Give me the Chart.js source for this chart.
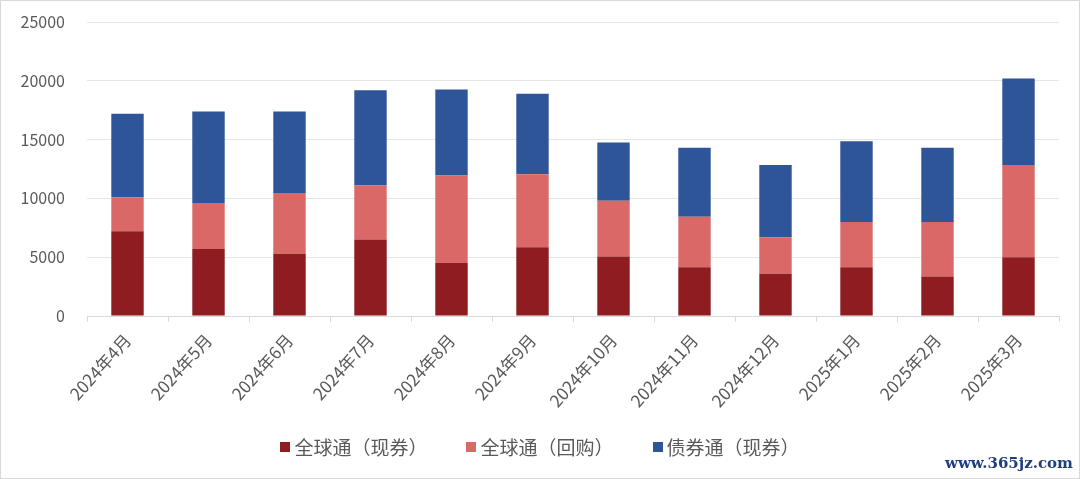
<!DOCTYPE html>
<html><head><meta charset="utf-8">
<script src="https://cdn.jsdelivr.net/npm/chart.js@4"></script>
<style>
html,body{margin:0;padding:0;background:#fff;}
#wrap{position:relative;width:1078px;height:477px;border:1px solid #d9d9d9;}
#wm{position:absolute;right:6px;bottom:6px;font-family:"DejaVu Serif",serif;font-weight:bold;font-size:15px;color:#1f3f7a;}
#legend{position:absolute;left:0;right:0;top:435px;display:flex;justify-content:center;gap:39px;font-family:'Noto Sans CJK SC','Noto Sans',sans-serif;font-size:19px;color:#595959;line-height:22px;}
#legend .it{display:flex;align-items:center;}
#legend .sw{display:inline-block;width:10px;height:10px;margin-right:4px;}
</style></head><body>
<div id="wrap"><canvas id="c" width="1078" height="477"></canvas><div id="legend"></div><div id="wm">www.365jz.com</div></div>
<script>
const categories = ["2024年4月","2024年5月","2024年6月","2024年7月","2024年8月","2024年9月","2024年10月","2024年11月","2024年12月","2025年1月","2025年2月","2025年3月"];
const seriesNames = ["全球通（现券）","全球通（回购）","债券通（现券）"];
const globalSpot = [7200,5700,5300,6500,4500,5850,5050,4150,3600,4150,3350,5000];
const globalRepo = [2900,3900,5150,4600,7450,6200,4750,4300,3100,3850,4650,7850];
const bondConnect = [7100,7800,6950,8100,7300,6850,4950,5850,6150,6850,6300,7350];
const yTicks = [0,5000,10000,15000,20000,25000];

const font = "'Noto Sans CJK SC', 'Noto Sans', sans-serif";
const chart = new Chart(document.getElementById('c'), {
  type: 'bar',
  data: {
    labels: categories,
    datasets: [
      {label: seriesNames[0], data: globalSpot, backgroundColor: '#8E1C21'},
      {label: seriesNames[1], data: globalRepo, backgroundColor: '#D96866'},
      {label: seriesNames[2], data: bondConnect, backgroundColor: '#2E5597'}
    ]
  },
  options: {
    responsive: false,
    animation: false,
    layout: {padding: {left: 0, right: 20, top: 21, bottom: 59}},
    datasets: {bar: {categoryPercentage: 0.4, barPercentage: 1.0}},
    plugins: {
      legend: {display: false},
      tooltip: {enabled: false}
    },
    scales: {
      x: {
        stacked: true,
        afterFit: (s) => { s.paddingLeft = 0; s.paddingRight = 0; },
        grid: {display: true, drawOnChartArea: false, drawTicks: true, tickLength: 6, color: '#d9d9d9'},
        border: {color: '#d9d9d9'},
        ticks: {font: {family: font, size: 17}, color: '#595959', minRotation: 48, maxRotation: 48, padding: 8}
      },
      y: {
        stacked: true,
        min: 0, max: 25000,
        afterBuildTicks: (s) => { s.ticks = yTicks.map(v => ({value: v})); },
        afterFit: (s) => { s.width = 86; s.paddingTop = 0; s.paddingBottom = 0; },
        grid: {color: '#e6e6e6', drawTicks: false},
        border: {display: false},
        ticks: {font: {family: font, size: 16}, color: '#595959', padding: 22, callback: (v) => String(v)}
      }
    }
  }
});
const lg = document.getElementById('legend');
chart.data.datasets.forEach(ds => {
  const it = document.createElement('span'); it.className = 'it';
  const sw = document.createElement('span'); sw.className = 'sw'; sw.style.background = ds.backgroundColor;
  it.appendChild(sw); it.appendChild(document.createTextNode(ds.label));
  lg.appendChild(it);
});
</script>
</body></html>
